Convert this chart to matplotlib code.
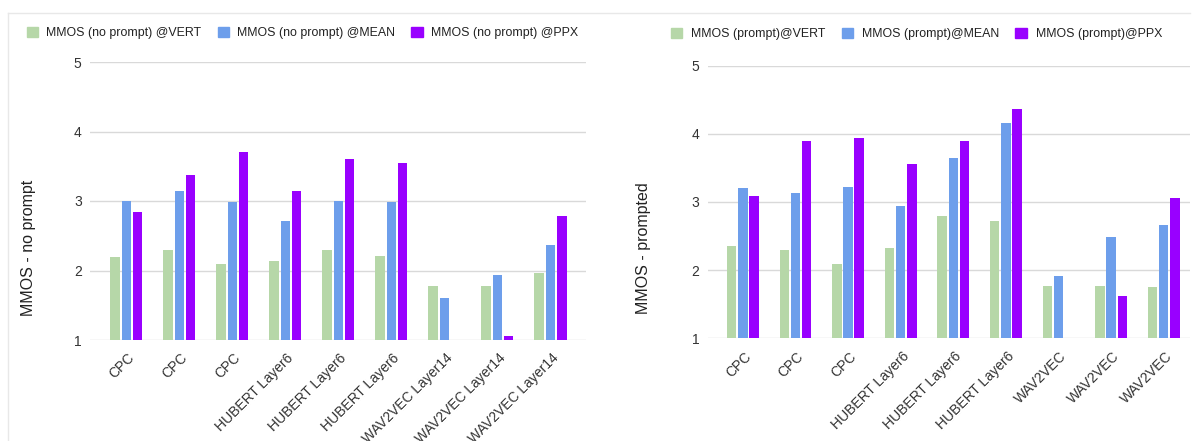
import numpy as np
import matplotlib.pyplot as plt
from matplotlib.lines import Line2D
from matplotlib.transforms import ScaledTranslation

plt.rcParams["font.family"] = ["Liberation Sans", "DejaVu Sans"]

# left chart: no prompt
labels_np = ["CPC", "CPC", "CPC",
             "HUBERT Layer6", "HUBERT Layer6", "HUBERT Layer6",
             "WAV2VEC Layer14", "WAV2VEC Layer14", "WAV2VEC Layer14"]
vert_np = [2.20, 2.30, 2.10, 2.13, 2.30, 2.21, 1.78, 1.78, 1.97]
mean_np = [3.00, 3.15, 2.99, 2.71, 3.00, 2.99, 1.60, 1.94, 2.36]
ppx_np = [2.84, 3.38, 3.71, 3.15, 3.61, 3.54, np.nan, 1.06, 2.78]

# right chart: prompted
labels_p = ["CPC", "CPC", "CPC",
            "HUBERT Layer6", "HUBERT Layer6", "HUBERT Layer6",
            "WAV2VEC", "WAV2VEC", "WAV2VEC"]
vert_p = [2.36, 2.29, 2.09, 2.32, 2.80, 2.72, 1.77, 1.77, 1.76]
mean_p = [3.21, 3.13, 3.22, 2.94, 3.64, 4.16, 1.92, 2.48, 2.66]
ppx_p = [3.09, 3.90, 3.94, 3.56, 3.90, 4.36, np.nan, 1.62, 3.06]

legend_np = ["MMOS (no prompt) @VERT", "MMOS (no prompt) @MEAN", "MMOS (no prompt) @PPX"]
legend_p = ["MMOS (prompt)@VERT", "MMOS (prompt)@MEAN", "MMOS (prompt)@PPX"]

colors = ["#b6d7a8", "#6d9eeb", "#9900ff"]
text_col = "#333333"


def draw(ax, labels, series, ylabel, xlim, ylab_x):
    x = np.arange(len(labels))
    w = 0.18
    step = 0.212
    for i, (vals, c) in enumerate(zip(series, colors)):
        vals = np.array(vals, dtype=float)
        ax.bar(x + (i - 1) * step, vals - 1, bottom=1, width=w, color=c)
    ax.set_ylim(1, 5)
    ax.set_xlim(*xlim)
    ax.set_yticks([1, 2, 3, 4, 5])
    ax.yaxis.grid(True, color="#d9d9d9", linewidth=1)
    ax.set_axisbelow(True)
    for s in ax.spines.values():
        s.set_visible(False)
    ax.tick_params(axis="both", length=0, labelsize=10, colors=text_col)
    ax.tick_params(axis="y", pad=6)
    ax.set_xticks(x)
    ax.set_xticklabels(labels, rotation=45, ha="right", va="top",
                       rotation_mode="anchor")
    # nudge rotated labels so their ends sit under the bars
    off = ScaledTranslation(1 / 100, -6 / 100, ax.figure.dpi_scale_trans)
    for t in ax.get_xticklabels():
        t.set_transform(t.get_transform() + off)
    ax.set_ylabel(ylabel, fontsize=11.5, color="#222222")
    ax.yaxis.set_label_coords(ylab_x, 0.33)


fig = plt.figure(figsize=(11.92, 4.41), dpi=100)

# faint panel border
fig.add_artist(Line2D([8 / 1192, 1190 / 1192], [1 - 12.5 / 441] * 2,
                      transform=fig.transFigure, color="#e8e8e8", lw=1))
fig.add_artist(Line2D([8 / 1192] * 2, [0, 1 - 12.5 / 441],
                      transform=fig.transFigure, color="#e8e8e8", lw=1))

ax1 = fig.add_axes([90 / 1192, 1 - 340 / 441, 495.5 / 1192, 278 / 441])
draw(ax1, labels_np, [vert_np, mean_np, ppx_np], "MMOS - no prompt",
     (-0.685, 8.66), -0.108)

ax2 = fig.add_axes([707.6 / 1192, 1 - 338.3 / 441, 482.4 / 1192, 272.6 / 441])
draw(ax2, labels_p, [vert_p, mean_p, ppx_p], "MMOS - prompted",
     (-0.67, 8.5), -0.118)


def legend(names, x, y, colspace, pad):
    handles = [plt.Rectangle((0, 0), 1, 1, color=c) for c in colors]
    fig.legend(handles, names, loc="center left", bbox_to_anchor=(x, y),
               ncol=3, frameon=False, fontsize=8.9, borderpad=0,
               handlelength=0.9, handleheight=0.9, handletextpad=pad,
               columnspacing=colspace, labelcolor="#222222")


legend(legend_np, 20.5 / 1192, 1 - 33 / 441, 1.36, 0.64)
legend(legend_p, 664.7 / 1192, 1 - 34 / 441, 1.3, 0.75)

fig.savefig("out.png", dpi=100)
